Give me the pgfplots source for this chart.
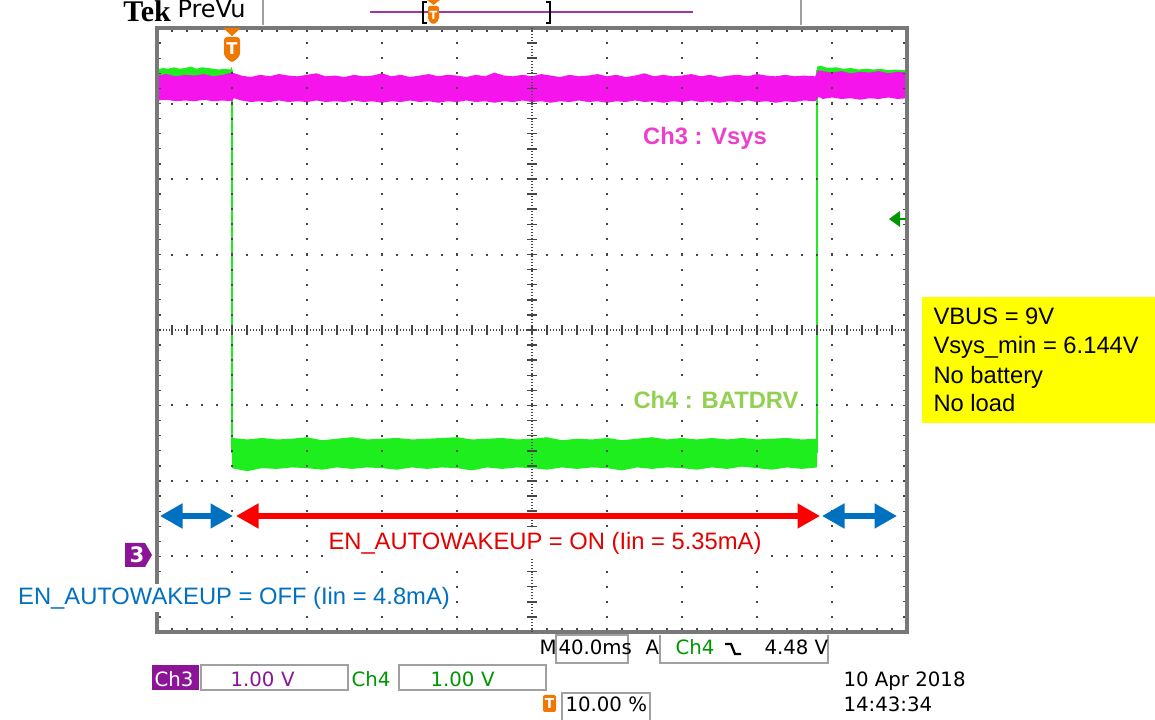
\documentclass[border=0pt]{standalone}
\usepackage{fontspec}
\setmainfont{Liberation Sans}
\newfontfamily\tekfont{DejaVu Sans}
\newfontfamily\tekserif{Liberation Serif}
\usepackage{pgfplots}
\pgfplotsset{compat=1.18}
\usetikzlibrary{arrows.meta}

\definecolor{vsys}{RGB}{245,20,235}
\definecolor{batdrv}{RGB}{30,238,30}
\definecolor{ch3txt}{RGB}{236,64,204}
\definecolor{ch4txt}{RGB}{146,208,80}
\definecolor{arrowblue}{RGB}{0,112,192}
\definecolor{arrowred}{RGB}{250,0,0}
\definecolor{tekpurple}{RGB}{140,20,150}
\definecolor{tekgreen}{RGB}{0,150,0}
\definecolor{tekorange}{RGB}{240,120,0}
\definecolor{gridgray}{RGB}{70,70,70}
\definecolor{framegray}{RGB}{120,120,120}
\definecolor{boxgray}{RGB}{160,160,160}
\definecolor{noteyellow}{RGB}{255,255,0}

\begin{document}
\begin{tikzpicture}
\path[use as bounding box] (0,0) rectangle (462pt,288pt);

% 1 px of the screenshot = 0.4pt ; screen grid 750 x 604 px
\begin{axis}[
  at={(62.8pt,35.2pt)}, anchor=south west,
  scale only axis, width=300pt, height=241.6pt,
  xmin=-40, xmax=360, ymin=-1, ymax=7,
  xtick={-40,0,...,360}, ytick={-1,0,...,7},
  minor x tick num=4, minor y tick num=4,
  xticklabels={}, yticklabels={},
  tick align=inside, tick pos=both,
  major tick length=1.6pt, minor tick length=1.6pt,
  tick style={gridgray, line width=0.5pt},
  xmajorgrids, ymajorgrids,
  x grid style={gridgray, line width=0.8pt, dash pattern=on 0.8pt off 5.24pt, dash phase=0.4pt},
  y grid style={gridgray, line width=0.8pt, dash pattern=on 0.8pt off 5.2pt, dash phase=0.4pt},
  axis line style={framegray, line width=1.6pt},
  axis on top,
]
% Ch4 BATDRV, high before the trigger
\addplot[fill=batdrv, draw=none] table {
-40 6.45
-37 6.47
-34 6.46
-31 6.48
-28 6.46
-25 6.47
-22 6.49
-19 6.46
-16 6.48
-13 6.47
-10 6.46
-7 6.45
-4 6.46
-1 6.45
0 6.49
0 6.30
-40 6.30
};
% Ch4 BATDRV, low while EN_AUTOWAKEUP = ON
\addplot[fill=batdrv, draw=none] table {
0 1.57
8 1.55
16 1.57
24 1.55
32 1.56
40 1.58
48 1.54
56 1.56
64 1.58
72 1.55
80 1.56
88 1.57
96 1.55
104 1.56
112 1.57
120 1.58
128 1.55
136 1.56
144 1.57
152 1.55
160 1.56
168 1.58
176 1.54
184 1.56
192 1.55
200 1.57
208 1.54
216 1.56
224 1.58
232 1.55
240 1.57
248 1.55
256 1.57
264 1.55
272 1.57
280 1.55
288 1.56
296 1.57
304 1.55
312 1.56
312 1.18
304 1.16
296 1.18
288 1.15
280 1.17
272 1.19
264 1.16
256 1.18
248 1.15
240 1.17
232 1.18
224 1.16
216 1.18
208 1.14
200 1.17
192 1.18
184 1.16
176 1.18
168 1.15
160 1.17
152 1.18
144 1.16
136 1.18
128 1.14
120 1.17
112 1.18
104 1.16
96 1.18
88 1.15
80 1.17
72 1.18
64 1.16
56 1.18
48 1.15
40 1.17
32 1.18
24 1.16
16 1.17
8 1.13
0 1.17
};
% Ch4 BATDRV, high again
\addplot[fill=batdrv, draw=none] table {
312 6.49
314 6.50
318 6.47
322 6.48
326 6.46
330 6.47
334 6.45
338 6.46
342 6.45
346 6.46
350 6.44
354 6.45
358 6.44
360 6.45
360 6.35
312 6.35
};
\addplot[batdrv, line width=0.8pt] coordinates {(0,6.45) (0,1.37)};
\addplot[batdrv, line width=0.8pt] coordinates {(312,1.37) (312,6.45)};
% Ch3 Vsys
\addplot[fill=vsys, draw=none] table {
-40 6.37
-35 6.39
-30 6.36
-25 6.38
-20 6.37
-15 6.39
-10 6.36
-5 6.38
0 6.41
5 6.37
10 6.35
15 6.38
20 6.36
25 6.39
30 6.37
35 6.36
40 6.38
45 6.40
50 6.36
55 6.37
60 6.35
65 6.38
70 6.36
75 6.37
80 6.40
85 6.36
90 6.38
95 6.35
100 6.37
105 6.39
110 6.36
115 6.38
120 6.37
125 6.35
130 6.38
135 6.36
140 6.41
145 6.37
150 6.36
155 6.38
160 6.36
165 6.39
170 6.37
175 6.35
180 6.38
185 6.36
190 6.37
195 6.39
200 6.36
205 6.38
210 6.35
215 6.37
220 6.40
225 6.36
230 6.38
235 6.36
240 6.37
245 6.39
250 6.36
255 6.38
260 6.35
265 6.37
270 6.38
275 6.36
280 6.39
285 6.37
290 6.36
295 6.38
300 6.36
305 6.37
311 6.36
312.5 6.44
315 6.43
320 6.41
325 6.43
330 6.40
335 6.42
340 6.41
345 6.43
350 6.40
355 6.42
360 6.41
360 6.07
355 6.06
350 6.08
345 6.06
340 6.07
335 6.05
330 6.07
325 6.06
320 6.08
315 6.06
313 6.09
311 6.03
305 6.04
300 6.02
295 6.03
290 6.01
285 6.03
280 6.02
275 6.04
270 6.02
265 6.03
260 6.01
255 6.03
250 6.02
245 6.04
240 6.02
235 6.03
230 6.01
225 6.03
220 6.02
215 6.04
210 6.02
205 6.03
200 6.01
195 6.03
190 6.02
185 6.04
180 6.02
175 6.03
170 6.01
165 6.03
160 6.02
155 6.04
150 6.02
145 6.03
140 6.01
135 6.03
130 6.02
125 6.04
120 6.02
115 6.03
110 6.01
105 6.03
100 6.02
95 6.04
90 6.02
85 6.03
80 6.01
75 6.03
70 6.02
65 6.04
60 6.02
55 6.03
50 6.02
45 6.04
40 6.02
35 6.03
30 6.02
25 6.04
20 6.02
15 6.03
10 6.02
5 6.04
1 6.07
0 6.03
-5 6.04
-10 6.03
-15 6.05
-20 6.03
-25 6.04
-30 6.03
-35 6.05
-40 6.04
};
\end{axis}

\begin{scope}[x=0.4pt, y=0.4pt]
% centre cross of the graticule
\draw[gridgray, line width=0.5pt, dash pattern=on 0.5pt off 0.7pt] (532,88) -- (532,692);
\draw[gridgray, line width=0.5pt, dash pattern=on 0.5pt off 0.7pt] (157,390) -- (907,390);
\foreach \i in {1,...,39} \draw[gridgray, line width=0.6pt] (527,{88+\i*15.1}) -- (537,{88+\i*15.1});
\foreach \i in {1,...,49} \draw[gridgray, line width=0.6pt] ({157+\i*15},385) -- ({157+\i*15},395);

% trigger marker on the graticule
\fill[tekorange] (223,692) -- (241,692) -- (232,684) -- cycle;
\fill[tekorange, rounded corners=1.2pt] (224,683) -- (240,683) -- (240,664) -- (232,657) -- (224,664) -- cycle;
\node[white, font=\tekfont\bfseries\fontsize{6.5}{7}\selectfont, inner sep=0] at (232,671) {T};

% ch3 ground marker
\fill[tekpurple] (125,177) -- (145,177) -- (152,165) -- (145,153) -- (125,153) -- cycle;
\node[white, font=\tekfont\bfseries\fontsize{8.5}{9}\selectfont, inner sep=0] at (137,165) {3};

% ch4 trigger level
\fill[tekgreen] (889,501) -- (900,509) -- (900,493) -- cycle;
\draw[tekgreen, line width=1pt] (898,501) -- (906,501);

% annotation arrows
\draw[arrowblue, line width=2.2pt, {Triangle[length=9pt,width=9.5pt]}-{Triangle[length=9pt,width=9.5pt]}] (160,204) -- (233,204);
\draw[arrowred, line width=2.2pt, {Triangle[length=9pt,width=9.5pt]}-{Triangle[length=9pt,width=9.5pt]}] (236,204) -- (820,204);
\draw[arrowblue, line width=2.2pt, {Triangle[length=9pt,width=9.5pt]}-{Triangle[length=9pt,width=9.5pt]}] (822,204) -- (897,204);

% annotation texts
\node[ch3txt, fill=white, font=\bfseries\fontsize{9.5}{11}\selectfont, inner sep=1pt] at (705,582) {Ch3 : Vsys};
\node[ch4txt, fill=white, font=\bfseries\fontsize{9.5}{11}\selectfont, inner sep=1pt] at (716,320) {Ch4 : BATDRV};
\node[red!90!black, fill=white, font=\fontsize{9.5}{11}\selectfont, inner sep=1pt] at (545,177) {EN\_AUTOWAKEUP = ON (Iin = 5.35mA)};
\node[arrowblue, fill=white, font=\fontsize{9.5}{11}\selectfont, inner sep=1pt] at (234,122) {EN\_AUTOWAKEUP = OFF (Iin = 4.8mA)};

% yellow note
\fill[noteyellow] (922,297) rectangle (1155,423);
\begin{scope}[every node/.style={anchor=base west, inner sep=0, font=\fontsize{9.5}{11}\selectfont}]
\node at (933,395) {VBUS = 9V};
\node at (933,366) {Vsys\_min = 6.144V};
\node at (933,336) {No battery};
\node at (933,308) {No load};
\end{scope}

% top status bar
\node[anchor=base west, inner sep=0, font=\tekserif\bfseries\fontsize{12}{13}\selectfont] at (123,698) {Tek};
\node[anchor=base west, inner sep=0, font=\tekfont\fontsize{9.6}{11}\selectfont] at (177,702) {PreVu};
\draw[boxgray, line width=0.8pt] (263,695) -- (263,720);
\draw[boxgray, line width=0.8pt] (801,695) -- (801,720);
\draw[tekpurple!85, line width=0.8pt] (370,708) -- (693,708);
\draw[black, line width=0.8pt] (427,718) -- (423,718) -- (423,697) -- (427,697);
\draw[black, line width=0.8pt] (546,718) -- (550,718) -- (550,697) -- (546,697);
\fill[tekorange] (427,720) -- (440,720) -- (433.5,715) -- cycle;
\fill[tekorange, rounded corners=0.8pt] (428,714) -- (439,714) -- (439,700) -- (433.5,695) -- (428,700) -- cycle;
\node[white, font=\tekfont\bfseries\fontsize{4.5}{5}\selectfont, inner sep=0] at (433.5,705) {T};

% bottom readouts
\begin{scope}[every node/.style={anchor=base west, inner sep=0, font=\tekfont\fontsize{7.9}{9}\selectfont}]
\node at (539,65) {M};
\draw[boxgray, line width=0.6pt] (556,57) rectangle (628,85);
\node at (558,65) {40.0ms};
\node at (645,65) {A};
\draw[boxgray, line width=0.6pt] (660,85) -- (660,57) -- (828,57) -- (828,85);
\node[tekgreen] at (675,65) {Ch4};
\node at (764,65) {4.48 V};
\fill[tekpurple] (152,30) rectangle (199,55);
\node[white] at (154,33) {Ch3};
\draw[boxgray, line width=0.6pt] (201,30) rectangle (348,55);
\node[tekpurple] at (230,33) {1.00\,\,V};
\node[tekgreen] at (351,33) {Ch4};
\draw[boxgray, line width=0.6pt] (399,30) rectangle (546,55);
\node[tekgreen] at (430,33) {1.00\,\,V};
\draw[boxgray, line width=0.6pt] (562,-1) -- (562,27) -- (650,27) -- (650,-1);
\node at (565,8) {10.00 \%};
\node at (843,33) {10 Apr 2018};
\node at (843,8) {14:43:34};
\end{scope}
\draw[black, line width=0.9pt] (725,76) -- (731,76) -- (735,66) -- (741,66);
\fill[tekorange, rounded corners=0.8pt] (543,8) rectangle (556,25);
\node[white, font=\tekfont\bfseries\fontsize{5.5}{6}\selectfont, inner sep=0] at (549.5,16.5) {T};
\end{scope}
\end{tikzpicture}
\end{document}
